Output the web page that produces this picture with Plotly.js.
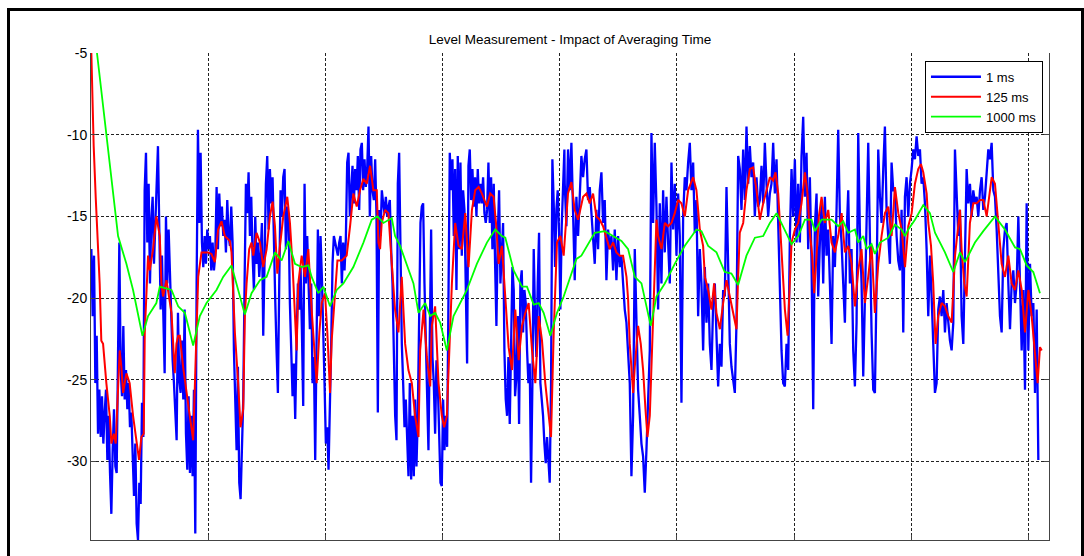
<!DOCTYPE html>
<html>
<head>
<meta charset="utf-8">
<script src="https://cdn.plot.ly/plotly-3.0.1.min.js"></script>
<style>
  html, body { margin: 0; padding: 0; background: #fff; }
  #wrap { position: relative; width: 1084px; height: 556px; overflow: hidden; }
  #chart { width: 1084px; height: 556px; }
  #frame { position: absolute; left: 7px; top: 8px; width: 1071px; height: 600px;
           border: 3px solid #000; pointer-events: none; }
</style>
</head>
<body>
<div id="wrap">
  <div id="chart"></div>
  <div id="frame"></div>
</div>
<script>
// ---- Data (time in s, level in dB) ----
const seriesNames = ["1 ms", "125 ms", "1000 ms"];
const yTickVals = [-30, -25, -20, -15, -10, -5];
const xTickVals = [0, 1, 2, 3, 4, 5, 6, 7, 8];

// 1 ms averaging: two recorded stretches, each sampled at a constant rate
const blueAStart = 0.003, blueAEnd = 4.040;
const blueA = [-17.0,-21.1,-17.4,-25.2,-22.3,-28.3,-25.6,-28.5,-26.0,-28.9,-27.0,-25.6,-29.9,-27.2,-30.7,-33.2,-29.3,-26.8,-30.3,-30.7,-23.6,-16.6,-24.4,-26.0,-21.7,-26.2,-24.4,-26.8,-25.2,-27.9,-27.0,-29.3,-32.1,-28.9,-33.8,-34.8,-31.3,-32.6,-26.4,-28.5,
-13.4,-11.1,-16.6,-13.0,-19.1,-15.2,-13.8,-17.9,-15.0,-12.1,-10.7,-15.8,-20.7,-17.4,-22.1,-24.6,-15.0,-19.1,-15.8,-18.9,-21.1,-23.8,-25.2,-26.8,-28.7,-20.9,-25.0,-25.8,-22.6,-26.2,-20.7,-28.3,-30.5,-26.0,-30.7,-27.2,-30.9,-25.6,-34.4,-19.1,-9.7,-15.4,-11.1,
-16.6,-18.1,-16.2,-17.9,-15.8,-17.0,-16.2,-18.3,-16.6,-18.3,-17.4,-13.2,-17.0,-13.6,-15.6,-14.4,-16.2,-15.2,-17.2,-14.0,-16.2,-16.8,-14.4,-16.6,
-23.2,-26.2,-29.3,-24.2,-31.3,-32.3,-28.3,-26.2,-19.1,-13.0,-14.8,-12.3,-16.2,-13.8,-17.4,-19.5,-15.0,-17.9,-16.6,-18.7,-17.4,-15.4,-22.3,-16.6,-13.0,-11.3,-15.8,-12.1,-14.2,-12.6,-17.0,-20.1,-23.2,-25.8,-19.1,-13.4,-15.0,-12.6,-12.1,-17.0,-14.4,-15.0,
-20.3,-23.6,-26.0,-24.0,-27.4,-22.8,-19.1,-20.7,-18.1,-21.9,-26.6,-13.0,-19.1,-16.2,-19.7,-21.9,-19.1,-25.2,-23.6,-29.9,-22.8,-15.8,-21.1,-16.2,-18.7,-23.2,-25.2,-28.9,-27.9,-30.5,-25.2,-22.8,-17.9,-16.2,-16.6,-17.0,-17.4,-16.6,-16.2,-19.1,-16.6,-18.3,-16.4,
-11.7,-11.1,-15.0,-13.4,-11.9,-14.2,-12.1,-13.4,-11.3,-14.6,-10.9,-10.5,-13.4,-11.5,-13.2,-12.1,-9.5,-15.0,-11.3,-13.4,-14.0,-11.5,-15.0,-27.0,-14.6,-16.2,-13.4,-14.2,-14.8,-13.8,-15.0,-14.4,-14.0,-17.0,-19.1,-23.2,-27.2,-28.7,-13.0,-11.1,
-17.0,-22.8,-25.2,-27.9,-26.2,-29.3,-30.9,-25.2,-31.1,-27.2,-30.9,-26.2,-30.3,-27.2,-20.3,-15.4,-14.4,-14.2,-19.1,-23.2,-27.2,-29.3,-22.3,-15.8,-23.6,-25.2,-28.3,-23.8,-25.2,-29.3,-31.3,-31.5,-26.2,-29.3,-27.2,-29.1,-19.1,
-11.1,-13.4,-11.5,-16.2,-12.1,-19.5,-11.3,-17.0,-11.7,-17.4,-13.4,-14.6,-21.1,-24.0,-11.9,-10.9,-14.0,-12.1,-14.4,-12.6,-15.0,-12.1,-14.2,-13.0,-14.2,-12.6,-14.8,-15.4,-14.6,-11.7,-15.4,-12.6,-17.0,-13.0,-17.9,-21.7,-16.2,-13.4,-19.1,-17.0,-15.4,
-23.2,-26.2,-27.2,-23.6,-27.7,-21.1,-18.1,-19.5,-26.0,-24.8,-21.1,-27.7,-19.1,-18.3,-22.1,-19.5,-20.3,-23.2,-25.2,-24.0,-31.3,-25.2,-17.0,-21.1,-23.6,-19.1,-16.0,-25.2,-26.2,-27.2,-28.9,-30.1,-28.5,-30.1,-31.3,-25.2,
-11.5,-14.2,-18.1,-14.6,-13.4,-16.0,-20.7,-15.6,-13.0,-10.9];

const blueBStart = 4.043, blueBEnd = 8.085;
const blueB = [-13.0,-15.6,-10.9,-13.4,-10.5,-14.6,-18.9,-13.8,-16.2,-13.8,-11.3,-12.6,-11.5,-10.9,-14.0,-13.2,-15.0,-16.2,-17.9,-14.6,-17.0,-13.4,-12.3,-15.4,-14.0,-18.9,-15.8,-17.0,-16.2,-18.3,-15.8,-18.9,-16.2,-18.1,-17.4,-19.1,-20.7,-21.5,-23.2,-25.2,
-30.9,-27.2,-17.0,-21.1,-25.6,-27.2,-28.9,-29.7,-31.9,-29.3,-26.2,-23.2,-9.9,-15.4,-10.5,-14.4,-20.7,-14.2,-19.1,-13.4,-17.2,-13.8,-16.6,-19.1,-11.7,-15.8,-13.0,
-17.4,-13.6,-16.2,-26.4,-15.0,-12.6,-13.4,-11.7,-10.5,-13.4,-11.7,-16.0,-14.0,-21.1,-17.0,-19.1,-23.2,-18.1,-21.5,-19.1,-22.8,-24.4,-20.3,-19.1,-22.8,-25.4,-22.8,-24.2,-19.5,-19.9,-13.2,-19.1,-22.8,-24.2,-25.2,-25.8,-21.5,
-11.3,-12.1,-14.6,-10.9,-14.0,-9.5,-13.0,-10.7,-12.6,-11.7,-15.0,-12.6,-14.4,-14.0,-11.9,-14.2,-10.5,-13.0,-15.0,-13.6,-13.0,-10.5,-13.6,-11.5,-16.0,-19.9,-23.2,-25.2,-25.4,-22.8,-24.4,-16.2,-12.1,-15.0,-11.5,-16.6,-13.0,-16.6,-11.3,-8.9,-13.8,-11.1,-17.0,-12.6,-17.9,-26.8,-15.6,-13.6,-19.9,-16.6,-14.2,-19.1,-13.8,-17.4,-15.8,-19.1,-22.8,-16.2,-18.1,-14.6,
-9.7,-15.0,-16.6,-19.1,-21.5,-16.2,-13.4,-19.1,-17.0,-23.2,-25.4,-21.5,-9.9,-16.0,-19.1,-24.8,-19.1,-15.4,-10.5,-17.9,-22.1,-25.6,-25.8,-19.1,-10.9,-13.8,-15.4,-12.1,-9.5,-14.6,-16.2,-17.9,-11.7,-13.4,-13.4,-16.2,-17.7,-18.3,-14.6,-22.1,-13.8,-12.6,-15.0,-13.0,-12.1,-10.9,-11.5,-10.1,-11.3,-10.9,-13.0,-12.6,-14.2,-17.0,-21.1,-17.4,-19.9,-23.2,-25.8,-25.2,-20.7,-19.9,-21.1,-19.5,-22.1,-20.3,-21.5,-22.6,-23.2,-21.5,
-10.9,-13.4,-16.2,-14.6,-21.1,-22.8,-17.0,-12.1,-14.2,-13.0,-15.0,-13.4,-14.2,-13.8,-15.0,-13.4,-12.6,-14.6,-13.8,-12.1,-10.9,-11.5,-10.5,-13.4,-13.8,-15.8,-18.3,-21.1,-22.1,-17.0,-15.8,-15.4,-19.1,-21.9,-19.1,-18.3,-20.3,-19.1,-15.0,-19.1,-23.2,-19.5,-25.6,-14.2,-23.2,-17.9,-21.1,-20.3,-25.8,-20.7,-29.9];

// 125 ms averaging
const redT = [0.003,0.011,0.023,0.040,0.060,0.074,0.088,0.103,0.131,0.160,0.174,0.194,0.211,0.231,0.245,0.259,0.274,0.302,0.330,0.359,0.387,0.410,0.430,0.450,0.459,0.473,0.487,0.501,0.530,0.558,0.587,0.601,0.615,0.644,0.658,0.687,0.715,0.729,0.744,0.758,0.786,0.815,0.843,0.872,0.895,0.915,0.943,0.972,1.000,1.028,1.057,1.085,1.114,1.142,1.171,1.185,1.199,1.214,1.228,1.256,1.276,1.299,1.313,1.328,1.350,1.370,1.385,1.413,1.442,1.470,1.499,1.527,1.550,1.570,1.590,1.613,1.641,1.675,1.698,1.721,1.741,1.755,1.769,1.798,1.826,1.855,1.883,1.903,1.926,1.949,1.969,1.997,2.017,2.040,2.054,2.083,2.103,2.140,2.182,2.211,2.239,2.268,2.296,2.325,2.353,2.382,2.410,2.439,2.453,2.467,2.481,2.510,2.538,2.567,2.595,2.624,2.652,2.681,2.709,2.738,2.766,2.795,2.809,2.838,2.866,2.895,2.909,2.937,2.966,2.994,3.014,3.037,3.060,3.080,3.108,3.137,3.165,3.194,3.222,3.251,3.279,3.308,3.336,3.379,3.407,3.436,3.459,3.479,3.507,3.536,3.564,3.593,3.621,3.650,3.678,3.707,3.735,3.764,3.792,3.821,3.849,3.877,3.906,3.926,3.949,3.977,4.006,4.034,
4.071,4.100,4.128,4.157,4.200,4.228,4.256,4.285,4.313,4.342,4.370,4.399,4.427,4.456,4.484,4.513,4.541,4.570,4.584,4.598,4.612,4.627,4.641,4.655,4.669,4.692,4.712,4.732,4.749,4.769,4.789,4.806,4.826,4.840,4.869,4.897,4.925,4.954,4.982,5.011,5.039,5.068,5.096,5.139,5.167,5.196,5.224,5.239,5.267,5.295,5.318,5.338,5.367,5.395,5.424,5.452,5.481,5.509,5.523,5.537,5.566,5.594,5.623,5.651,5.680,5.708,5.737,5.765,5.794,5.822,5.842,5.865,5.893,5.922,5.945,5.964,5.979,6.007,6.036,6.064,6.093,6.115,6.135,6.155,6.172,6.192,6.212,6.235,6.263,6.292,6.320,6.349,6.377,6.406,6.434,6.463,6.491,6.520,6.548,6.576,6.605,6.633,6.662,6.690,6.719,6.747,6.776,6.804,6.833,6.861,6.890,6.918,6.947,6.975,7.004,7.032,7.060,7.083,7.103,7.132,7.146,7.169,7.188,7.208,7.231,7.260,7.288,7.317,7.345,7.374,7.402,7.416,7.430,7.453,7.473,7.501,7.530,7.559,7.587,7.616,7.644,7.687,7.715,7.744,7.772,7.800,7.829,7.857,7.886,7.914,7.943,7.971,8.000,8.028,8.057,8.079,8.099,8.114];
const redV = [-5.0,-7.9,-10.7,-13.8,-17.0,-19.1,-22.6,-22.8,-25.2,-27.2,-28.9,-28.3,-28.9,-25.2,-23.2,-24.2,-25.8,-24.6,-25.2,-27.2,-28.9,-29.9,-28.5,-28.3,-22.1,-19.1,-17.4,-18.3,-17.0,-15.0,-16.2,-19.1,-19.9,-18.9,-19.5,-20.9,-24.6,-22.8,-22.3,-22.3,-24.2,-25.6,-27.2,-28.7,-23.6,-18.7,-17.2,-17.2,-17.2,-17.3,-17.8,-15.8,-15.3,-16.2,-16.4,-16.5,-17.2,-19.5,-22.1,-25.2,-27.9,-26.8,-21.1,-19.1,-17.0,-16.6,-17.4,-16.0,-16.6,-18.1,-17.0,-15.0,-14.1,-15.6,-18.5,-16.8,-15.0,-13.8,-15.4,-18.1,-20.7,-23.2,-19.1,-17.4,-18.7,-17.0,-20.7,-22.8,-25.2,-22.1,-20.3,-19.7,-22.1,-25.8,-22.6,-19.7,-17.7,-17.7,-17.4,-15.6,-13.6,-14.4,-13.4,-12.7,-13.0,-11.9,-13.4,-13.4,-16.6,-17.0,-15.4,-14.6,-14.8,-17.9,-20.7,-22.1,-18.7,-22.8,-24.4,-25.2,-27.2,-28.5,-23.2,-20.7,-23.6,-25.4,-21.7,-20.5,-25.2,-27.2,-27.9,-27.2,-22.6,-19.1,-15.4,-16.8,-17.0,-14.8,-18.1,-14.6,-13.4,-13.2,-13.6,-14.4,-13.6,-13.8,-15.6,-17.9,-16.8,-20.3,-23.0,-24.4,-20.7,-23.8,-21.7,-20.9,-20.3,-23.2,-25.2,-21.1,-22.6,-25.2,-27.2,-28.5,-22.1,-16.6,-16.2,-17.4,
-13.6,-12.9,-14.6,-15.2,-13.8,-13.6,-14.2,-13.6,-15.0,-15.2,-15.6,-16.4,-17.0,-16.6,-17.2,-17.4,-17.4,-18.7,-20.1,-22.8,-24.4,-25.8,-24.2,-22.8,-21.7,-22.8,-24.4,-26.8,-28.5,-27.2,-23.2,-19.5,-15.2,-16.2,-17.0,-15.4,-15.6,-15.4,-14.8,-14.0,-14.2,-15.0,-13.4,-12.6,-13.4,-15.8,-16.8,-18.7,-19.5,-20.7,-19.1,-20.9,-21.9,-20.3,-18.9,-19.9,-20.9,-21.9,-18.7,-16.0,-15.4,-13.4,-12.1,-12.0,-13.4,-15.2,-14.2,-13.4,-12.6,-12.8,-12.3,-13.6,-17.4,-20.7,-22.3,-19.1,-16.6,-15.8,-15.4,-14.2,-12.3,-13.6,-16.0,-17.4,-19.7,-17.4,-15.0,-13.8,-15.4,-14.6,-16.6,-17.2,-16.2,-14.8,-17.2,-16.8,-17.9,-20.5,-18.3,-17.0,-20.3,-18.7,-16.8,-20.9,-17.9,-16.2,-14.8,-14.4,-16.2,-13.2,-14.8,-15.8,-18.1,-15.6,-14.8,-13.0,-12.1,-11.8,-12.3,-13.6,-15.4,-16.8,-19.1,-22.8,-21.1,-20.3,-20.5,-21.1,-21.5,-17.4,-15.2,-14.6,-17.0,-19.1,-19.9,-15.4,-14.2,-14.2,-14.0,-14.0,-15.0,-12.6,-13.0,-15.4,-17.9,-18.7,-17.4,-19.1,-19.5,-18.3,-19.5,-22.1,-19.5,-21.1,-23.6,-25.2,-23.0,-23.2];

// 1000 ms averaging
const greenT = [0.051,0.231,0.302,0.359,0.439,0.487,0.558,0.587,0.687,0.744,0.801,0.872,0.929,0.986,1.071,1.128,1.199,1.242,1.313,1.370,1.442,1.499,1.570,1.627,1.684,1.741,1.798,1.855,1.883,1.940,1.983,2.040,2.097,2.154,2.239,2.325,2.396,2.444,2.496,2.567,2.595,2.638,2.695,2.752,2.795,2.852,2.895,2.937,2.980,3.037,3.094,3.151,3.208,3.293,3.379,3.450,3.507,3.536,3.607,3.678,3.721,3.778,3.821,3.863,3.920,3.977,4.034,
4.143,4.185,4.299,4.385,4.527,4.584,4.641,4.698,4.777,4.826,4.897,4.982,5.068,5.167,5.210,5.267,5.338,5.409,5.466,5.523,5.594,5.666,5.737,5.794,5.851,5.922,5.979,6.036,6.093,6.149,6.178,6.235,6.320,6.377,6.420,6.463,6.520,6.548,6.591,6.619,6.662,6.690,6.733,6.804,6.861,6.918,6.947,6.975,7.032,7.103,7.160,7.203,7.288,7.359,7.416,7.459,7.544,7.615,7.672,7.715,7.800,7.886,7.929,7.985,8.042,8.099];
const greenV = [-5.0,-16.2,-17.9,-19.5,-22.3,-21.1,-20.3,-19.3,-19.5,-20.5,-20.9,-22.9,-21.1,-20.3,-19.5,-18.7,-18.0,-19.1,-21.0,-19.7,-18.9,-18.7,-17.2,-17.7,-16.5,-17.9,-18.1,-18.0,-18.7,-19.7,-19.3,-20.5,-19.5,-19.1,-18.1,-16.6,-15.2,-15.0,-15.4,-15.1,-16.2,-16.8,-17.9,-19.1,-20.9,-20.3,-21.1,-20.9,-21.5,-23.2,-21.1,-20.3,-19.5,-17.9,-16.6,-15.8,-16.2,-16.3,-18.3,-19.3,-19.3,-20.4,-20.3,-20.9,-22.3,-20.9,-19.9,
-17.6,-17.4,-16.0,-15.9,-16.5,-17.0,-18.7,-19.1,-21.7,-19.9,-19.1,-17.9,-16.8,-15.8,-15.9,-16.8,-17.2,-18.4,-18.5,-19.2,-17.4,-16.3,-16.2,-15.4,-14.8,-15.8,-16.7,-16.2,-15.2,-15.2,-15.9,-15.2,-15.2,-15.6,-15.3,-16.0,-15.8,-16.6,-16.2,-17.0,-16.7,-17.3,-16.6,-16.3,-15.5,-15.8,-16.2,-15.8,-15.2,-14.3,-14.8,-16.0,-17.2,-18.4,-17.2,-17.8,-16.6,-15.9,-15.4,-15.0,-15.8,-16.9,-17.0,-18.0,-18.4,-19.7];

// ---- Build traces ----
function sampleTimes(start, end, n) {
  const t = [];
  for (let i = 0; i < n; i++) t.push(start + (end - start) * i / (n - 1));
  return t;
}
const blueT = sampleTimes(blueAStart, blueAEnd, blueA.length).concat(sampleTimes(blueBStart, blueBEnd, blueB.length));
const blueV = blueA.concat(blueB);

const traces = [
  {x: blueT, y: blueV, name: seriesNames[0], type: 'scatter', mode: 'lines',
   line: {color: '#0000FF', width: 2.3}},
  {x: redT, y: redV, name: seriesNames[1], type: 'scatter', mode: 'lines',
   line: {color: '#FF0000', width: 2}},
  {x: greenT, y: greenV, name: seriesNames[2], type: 'scatter', mode: 'lines',
   line: {color: '#00FF00', width: 1.8}}
];

const fontFam = 'Arial, "Liberation Sans", sans-serif';
const layout = {
  width: 1084, height: 556,
  margin: {l: 91, r: 35, t: 53, b: 16},
  paper_bgcolor: '#ffffff', plot_bgcolor: '#ffffff',
  font: {family: fontFam, size: 13.5, color: '#000'},
  showlegend: true,
  title: {text: 'Level Measurement - Impact of Averaging Time', x: 0.5, xref: 'paper',
          y: 1, yref: 'paper', yanchor: 'bottom', pad: {b: 9},
          font: {family: fontFam, size: 13.5, color: '#000'}},
  xaxis: {range: [0, 8.176], tickvals: xTickVals, showticklabels: false,
          showgrid: true, gridcolor: '#222', griddash: '3px,2px', gridwidth: 1,
          zeroline: false, showline: true, linecolor: '#444', linewidth: 1,
          ticks: 'inside', ticklen: 5, tickcolor: '#444', mirror: false},
  xaxis2: {range: [0, 8.176], tickvals: xTickVals, showticklabels: false, overlaying: 'x',
           side: 'top', anchor: 'y', showgrid: false, zeroline: false, showline: false,
           ticks: 'inside', ticklen: 5, tickcolor: '#444'},
  yaxis: {range: [-34.8, -5], tickvals: yTickVals, ticktext: yTickVals.map(String),
          showgrid: true, gridcolor: '#222', griddash: '3px,2px', gridwidth: 1,
          zeroline: false, showline: true, linecolor: '#444', linewidth: 1,
          ticks: 'inside', ticklen: 5, tickcolor: '#444', mirror: 'ticks',
          tickfont: {family: fontFam, size: 14, color: '#000'}},
  legend: {x: 0.9937, xanchor: 'right', y: 0.984, yanchor: 'top',
           bgcolor: '#ffffff', bordercolor: '#000', borderwidth: 1,
           font: {family: fontFam, size: 13, color: '#000'},
           itemwidth: 50, tracegroupgap: 0}
};

Plotly.newPlot('chart', traces, layout, {staticPlot: true, displayModeBar: false});
</script>
</body>
</html>
